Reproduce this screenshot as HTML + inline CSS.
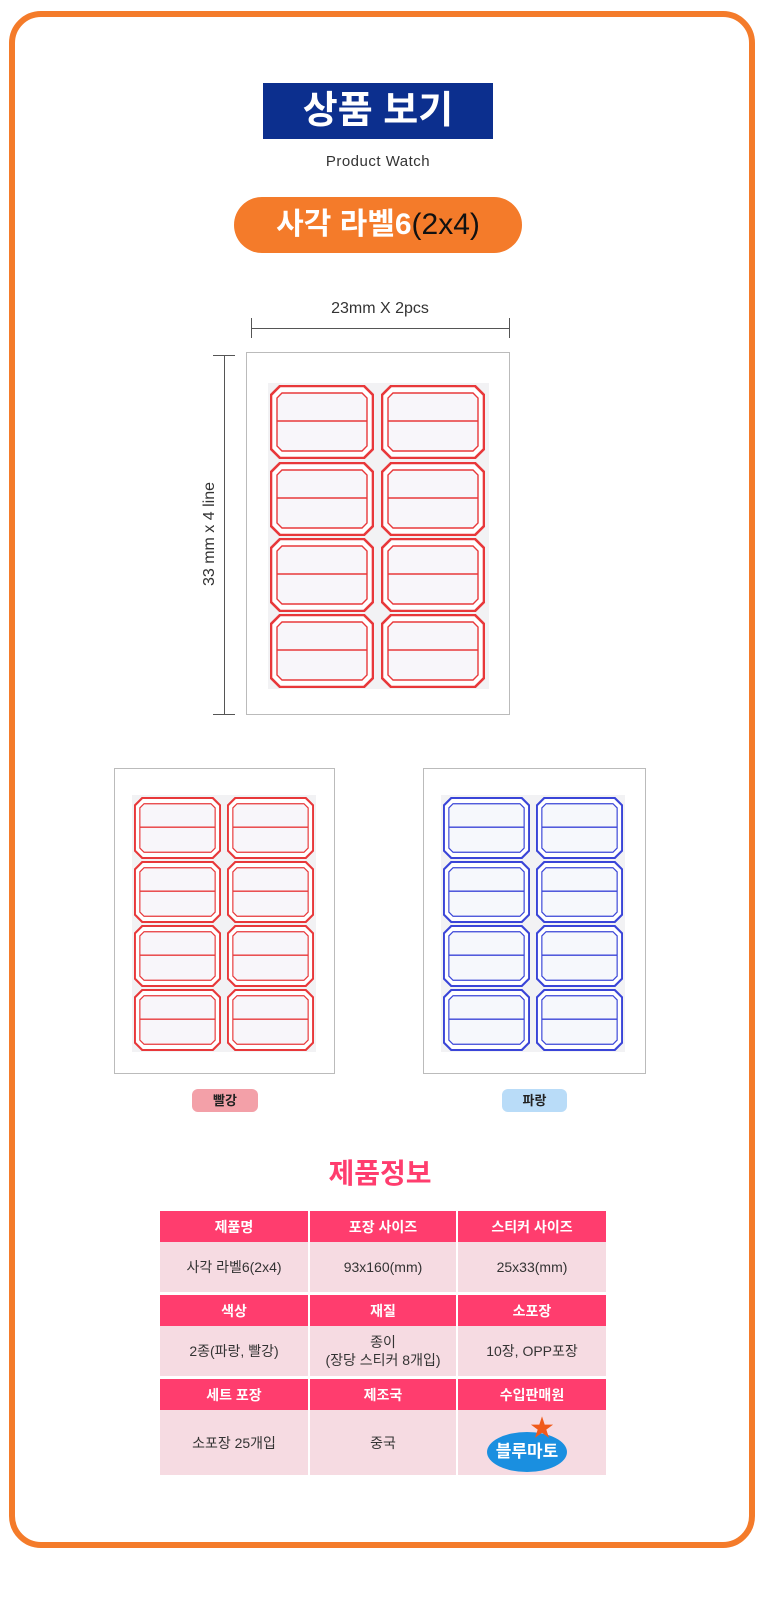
<!DOCTYPE html>
<html><head><meta charset="utf-8"><style>
*{margin:0;padding:0;box-sizing:border-box}
body{width:780px;height:1606px;background:#fff;position:relative;font-family:"Liberation Sans","Noto Sans CJK KR",sans-serif;overflow:hidden}
.a{position:absolute}
.frame{left:9px;top:11px;width:746px;height:1537px;border:6px solid #f47b2a;border-radius:32px}
.c{text-align:center}
table{position:absolute;left:158px;top:1211px;width:442px;border-collapse:separate;border-spacing:2px 0;font-size:14px;table-layout:fixed}
td{text-align:center;color:#333}
td.h{background:#ff3d6e;color:#fff;font-weight:bold;height:31px}
td.b{background:#f6dbe2;height:53px;border-bottom:3px solid #fff;line-height:18px}
</style></head><body>
<svg width="0" height="0" style="position:absolute">
<defs>
<symbol id="lr" viewBox="0 0 104 74"><path d="M10 1H94L103 10V64L94 73H10L1 64V10Z" fill="#fff" stroke="#e8383a" stroke-width="2.6"/><path d="M12 8H92L97 13V61L92 66H12L7 61V13Z" fill="#f8f6fa" stroke="#e8383a" stroke-width="1.4"/><line x1="7" y1="36" x2="97" y2="36" stroke="#e8383a" stroke-width="1.6"/></symbol>
<symbol id="lb" viewBox="0 0 104 74"><path d="M10 1H94L103 10V64L94 73H10L1 64V10Z" fill="#fff" stroke="#3a45d8" stroke-width="2.6"/><path d="M12 8H92L97 13V61L92 66H12L7 61V13Z" fill="#f6f8fc" stroke="#3a45d8" stroke-width="1.4"/><line x1="7" y1="36" x2="97" y2="36" stroke="#3a45d8" stroke-width="1.6"/></symbol>
</defs></svg>
<div class="a frame"></div>
<div class="a c" style="left:263px;top:83px;width:230px;height:56px;background:#0c2f8e;color:#fff;font-size:38px;font-weight:bold;line-height:56px">상품 보기</div>
<div class="a c" style="left:263px;top:153px;width:230px;font-size:15px;color:#333;letter-spacing:.5px">Product Watch</div>
<div class="a c" style="left:234px;top:197px;width:288px;height:56px;background:#f47b2a;border-radius:28px;font-size:30px;font-weight:bold;line-height:56px;color:#fff">사각 라벨6<span style="color:#111;font-weight:normal">(2x4)</span></div>

<div class="a c" style="left:251px;top:300px;width:258px;font-size:16px;color:#333">23mm X 2pcs</div>
<div class="a" style="left:251px;top:328px;width:258px;height:1px;background:#555"></div>
<div class="a" style="left:251px;top:318px;width:1px;height:20px;background:#555"></div>
<div class="a" style="left:509px;top:318px;width:1px;height:20px;background:#555"></div>
<div class="a" style="left:224px;top:355px;width:1px;height:359px;background:#555"></div>
<div class="a" style="left:213px;top:355px;width:22px;height:1px;background:#555"></div>
<div class="a" style="left:213px;top:714px;width:22px;height:1px;background:#555"></div>
<div class="a c" style="left:130px;top:525px;width:160px;font-size:16px;color:#333;transform:rotate(-90deg);transform-origin:center">33 mm x 4 line</div>

<div class="a" style="left:246px;top:352px;width:264px;height:363px;border:1px solid #bbb"></div>
<div class="a" style="left:268px;top:383px;width:221px;height:306px;background:#f2f2f4"></div>
<svg class="a" style="left:268px;top:383px" width="221" height="306">
<use href="#lr" x="2" y="2" width="104" height="74"/><use href="#lr" x="113" y="2" width="104" height="74"/>
<use href="#lr" x="2" y="79" width="104" height="74"/><use href="#lr" x="113" y="79" width="104" height="74"/>
<use href="#lr" x="2" y="155" width="104" height="74"/><use href="#lr" x="113" y="155" width="104" height="74"/>
<use href="#lr" x="2" y="231" width="104" height="74"/><use href="#lr" x="113" y="231" width="104" height="74"/>
</svg>

<div class="a" style="left:114px;top:768px;width:221px;height:306px;border:1px solid #bbb"></div>
<div class="a" style="left:132px;top:795px;width:184px;height:257px;background:#f2f2f4"></div>
<svg class="a" style="left:132px;top:795px" width="184" height="257">
<use href="#lr" x="2" y="2" width="87" height="62"/><use href="#lr" x="95" y="2" width="87" height="62"/>
<use href="#lr" x="2" y="66" width="87" height="62"/><use href="#lr" x="95" y="66" width="87" height="62"/>
<use href="#lr" x="2" y="130" width="87" height="62"/><use href="#lr" x="95" y="130" width="87" height="62"/>
<use href="#lr" x="2" y="194" width="87" height="62"/><use href="#lr" x="95" y="194" width="87" height="62"/>
</svg>
<div class="a" style="left:423px;top:768px;width:223px;height:306px;border:1px solid #bbb"></div>
<div class="a" style="left:441px;top:795px;width:184px;height:257px;background:#f2f2f4"></div>
<svg class="a" style="left:441px;top:795px" width="184" height="257">
<use href="#lb" x="2" y="2" width="87" height="62"/><use href="#lb" x="95" y="2" width="87" height="62"/>
<use href="#lb" x="2" y="66" width="87" height="62"/><use href="#lb" x="95" y="66" width="87" height="62"/>
<use href="#lb" x="2" y="130" width="87" height="62"/><use href="#lb" x="95" y="130" width="87" height="62"/>
<use href="#lb" x="2" y="194" width="87" height="62"/><use href="#lb" x="95" y="194" width="87" height="62"/>
</svg>

<div class="a c" style="left:192px;top:1089px;width:66px;height:23px;background:#f3a0a8;border-radius:6px;font-size:13px;font-weight:bold;line-height:23px;color:#222">빨강</div>
<div class="a c" style="left:502px;top:1089px;width:65px;height:23px;background:#b9dcf8;border-radius:6px;font-size:13px;font-weight:bold;line-height:23px;color:#222">파랑</div>

<div class="a c" style="left:280px;top:1152px;width:200px;font-size:28px;font-weight:bold;color:#ff3d6e">제품정보</div>

<table>
<colgroup><col style="width:148px"><col style="width:146px"><col style="width:148px"></colgroup>
<tr><td class="h">제품명</td><td class="h">포장 사이즈</td><td class="h">스티커 사이즈</td></tr>
<tr><td class="b">사각 라벨6(2x4)</td><td class="b">93x160(mm)</td><td class="b">25x33(mm)</td></tr>
<tr><td class="h">색상</td><td class="h">재질</td><td class="h">소포장</td></tr>
<tr><td class="b">2종(파랑, 빨강)</td><td class="b">종이<br>(장당 스티커 8개입)</td><td class="b">10장, OPP포장</td></tr>
<tr><td class="h">세트 포장</td><td class="h">제조국</td><td class="h">수입판매원</td></tr>
<tr><td class="b" style="height:65px;border:0">소포장 25개입</td><td class="b" style="height:65px;border:0">중국</td><td class="b" style="height:65px;border:0"></td></tr>
</table>
<div class="a c" style="left:487px;top:1432px;width:80px;height:40px;background:#1a8fe0;border-radius:50%;color:#fff;font-weight:bold;font-size:17px;line-height:40px">블루마토</div>
<div class="a" style="left:530px;top:1417px;color:#f05a1a;font-size:24px;line-height:24px">★</div>
</body></html>
